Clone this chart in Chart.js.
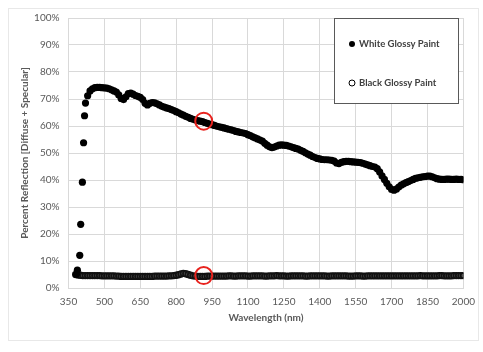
<!DOCTYPE html>
<html>
<head>
<meta charset="utf-8">
<script src="https://cdn.jsdelivr.net/npm/chart.js@4.4.1/dist/chart.umd.min.js"></script>
<style>
  html, body { margin: 0; padding: 0; background: #fff; }
  #wrap { width: 483px; height: 352px; }
</style>
</head>
<body>
<div id="wrap"><canvas id="spectrum" width="483" height="352"></canvas></div>
<script>
// wavelength axis ticks (nm)
const xTicks = [350, 500, 650, 800, 950, 1100, 1250, 1400, 1550, 1700, 1850, 2000];

// white paint: sparse points on the steep rise
const whiteRiseNm = [383, 387, 397, 401, 408, 413, 417, 421];
const whiteRisePct = [5.0, 6.6, 12.1, 23.6, 39.2, 53.8, 63.8, 68.5];

// white paint: 430 .. 2000 nm every 10 nm
const whiteStartNm = 430;
const whitePct = [
  71.2, 73.0, 73.8, 74.2, 74.3, 74.3, 74.2, 74.1, 74.0, 73.8,
  73.4, 73.0, 72.6, 71.5, 70.2, 69.8, 70.8, 72.0, 72.2, 71.8,
  71.3, 71.0, 70.6, 69.8, 68.4, 67.8, 68.4, 68.7, 68.6, 68.2,
  67.8, 67.3, 67.0, 66.7, 66.4, 66.1, 65.7, 65.3, 64.9, 64.4,
  64.0, 63.6, 63.2, 62.8, 62.5, 62.2, 62.0, 61.8, 61.6, 61.3,
  61.0, 60.7, 60.5, 60.2, 59.9, 59.7, 59.5, 59.3, 59.0, 58.8,
  58.6, 58.3, 58.0, 57.8, 57.6, 57.4, 57.2, 56.8, 56.4, 56.0,
  55.6, 55.2, 54.8, 54.4, 53.6, 52.9, 52.3, 52.0, 52.2, 52.6,
  52.9, 53.0, 52.9, 52.8, 52.6, 52.3, 52.0, 51.7, 51.4, 51.0,
  50.6, 50.1, 49.6, 49.2, 48.7, 48.3, 48.0, 47.8, 47.6, 47.5,
  47.5, 47.4, 47.3, 47.0, 46.3, 46.1, 46.5, 46.8, 46.9, 46.9,
  46.8, 46.7, 46.6, 46.5, 46.4, 46.2, 45.9, 45.6, 45.3, 45.0,
  44.8, 44.2, 43.0, 41.5, 40.2, 38.8, 37.5, 36.5, 36.2, 36.6,
  37.4, 38.1, 38.6, 39.0, 39.4, 39.8, 40.2, 40.6, 40.8, 41.0,
  41.2, 41.3, 41.4, 41.4, 41.2, 40.8, 40.5, 40.3, 40.2, 40.2,
  40.3, 40.3, 40.2, 40.2, 40.3, 40.2, 40.2, 40.1
];

// black paint: 380 .. 2000 nm every 10 nm
const blackStartNm = 380;
const blackPct = [
  5.0, 4.8, 4.7, 4.6, 4.6, 4.6, 4.6, 4.6, 4.6, 4.6,
  4.6, 4.5, 4.5, 4.5, 4.5, 4.5, 4.5, 4.4, 4.4, 4.3,
  4.3, 4.3, 4.3, 4.3, 4.3, 4.3, 4.3, 4.3, 4.3, 4.3,
  4.3, 4.3, 4.3, 4.4, 4.4, 4.4, 4.4, 4.4, 4.4, 4.5,
  4.5, 4.6, 4.7, 4.9, 5.2, 5.4, 5.3, 5.0, 4.7, 4.5,
  4.4, 4.3, 4.3, 4.3, 4.3, 4.4, 4.4, 4.4, 4.4, 4.4,
  4.4, 4.4, 4.4, 4.4, 4.5, 4.5, 4.4, 4.4, 4.5, 4.5,
  4.5, 4.5, 4.4, 4.4, 4.5, 4.5, 4.5, 4.5, 4.5, 4.4,
  4.4, 4.5, 4.5, 4.5, 4.6, 4.5, 4.5, 4.5, 4.4, 4.4,
  4.5, 4.5, 4.5, 4.5, 4.5, 4.5, 4.4, 4.4, 4.5, 4.5,
  4.5, 4.5, 4.5, 4.5, 4.5, 4.4, 4.4, 4.5, 4.5, 4.5,
  4.5, 4.5, 4.5, 4.5, 4.4, 4.4, 4.4, 4.5, 4.5, 4.5,
  4.4, 4.4, 4.5, 4.5, 4.5, 4.5, 4.5, 4.5, 4.5, 4.5,
  4.5, 4.5, 4.5, 4.5, 4.5, 4.5, 4.5, 4.5, 4.5, 4.5,
  4.5, 4.5, 4.5, 4.5, 4.6, 4.5, 4.5, 4.5, 4.5, 4.5,
  4.5, 4.5, 4.6, 4.6, 4.5, 4.5, 4.5, 4.5, 4.6, 4.6,
  4.6, 4.6, 4.6
];

// red highlight circles
const markNm = [915, 915];
const markPct = [61.8, 4.6];

const seriesNames = ['White Glossy Paint', 'Black Glossy Paint'];

const whitePoints = whiteRiseNm.map((x, i) => ({x, y: whiteRisePct[i]}))
  .concat(whitePct.map((y, i) => ({x: whiteStartNm + i * 10, y})));
const blackPoints = blackPct.map((y, i) => ({x: blackStartNm + i * 10, y}));
const markPoints = markNm.map((x, i) => ({x, y: markPct[i]}));

const textGray = '#595959';
const gridGray = '#d9d9d9';

// legend box in the upper right, drawn by hand like the Excel one
const boxLegend = {
  id: 'boxLegend',
  afterDraw(chart) {
    const ctx = chart.ctx;
    ctx.save();
    ctx.fillStyle = '#fff';
    ctx.fillRect(334, 18, 125, 85);
    ctx.strokeStyle = '#595959';
    ctx.lineWidth = 1;
    ctx.strokeRect(334.5, 18.5, 124, 85);
    ctx.font = 'bold 9.5px Lato';
    ctx.textBaseline = 'middle';
    ctx.textAlign = 'left';
    const rows = [44, 83];
    rows.forEach((y, i) => {
      ctx.beginPath();
      ctx.arc(352, y, 3, 0, Math.PI * 2);
      if (i === 0) {
        ctx.fillStyle = '#000';
        ctx.fill();
      } else {
        ctx.fillStyle = '#fff';
        ctx.fill();
        ctx.strokeStyle = '#000';
        ctx.stroke();
      }
      ctx.fillStyle = '#404040';
      ctx.fillText(seriesNames[i], 359, y);
    });
    ctx.restore();
  }
};

// faint outer frame of the chart
const frame = {
  id: 'frame',
  beforeDraw(chart) {
    const ctx = chart.ctx;
    ctx.save();
    ctx.strokeStyle = '#e8e8e8';
    ctx.lineWidth = 1;
    ctx.strokeRect(8.5, 8.5, 470, 332);
    ctx.restore();
  }
};

new Chart(document.getElementById('spectrum'), {
  type: 'scatter',
  data: {
    datasets: [
      {
        label: 'marks',
        data: markPoints,
        pointRadius: 8.5,
        pointBorderWidth: 2,
        pointBorderColor: '#e8231e',
        pointBackgroundColor: 'rgba(0,0,0,0)',
        order: -1
      },
      {
        label: seriesNames[0],
        data: whitePoints,
        pointRadius: 3.6,
        pointBorderWidth: 0,
        pointBackgroundColor: '#000',
        pointBorderColor: '#000'
      },
      {
        label: seriesNames[1],
        data: blackPoints,
        pointRadius: 2.8,
        pointBorderWidth: 1.8,
        pointBackgroundColor: '#555',
        pointBorderColor: '#111'
      }
    ]
  },
  options: {
    responsive: false,
    animation: false,
    layout: { padding: { left: 0, top: 18, right: 9, bottom: 0 } },
    plugins: {
      legend: { display: false },
      tooltip: { enabled: false }
    },
    scales: {
      x: {
        type: 'linear',
        min: xTicks[0],
        max: xTicks[xTicks.length - 1],
        afterBuildTicks: scale => { scale.ticks = xTicks.map(v => ({value: v})); },
        afterFit: scale => { scale.height = 64; },
        grid: { color: gridGray, drawTicks: false },
        border: { color: gridGray },
        ticks: {
          color: textGray,
          font: { family: 'Lato', size: 10 },
          padding: 8,
          maxRotation: 0,
          callback: v => String(v)
        },
        title: {
          display: true,
          text: 'Wavelength (nm)',
          color: textGray,
          font: { family: 'Lato', size: 10, weight: 'bold' },
          padding: { top: 0, bottom: 28 }
        }
      },
      y: {
        min: 0,
        max: 100,
        afterFit: scale => { scale.width = 68.5; },
        grid: { color: gridGray, drawTicks: false },
        border: { color: gridGray },
        ticks: {
          stepSize: 10,
          color: textGray,
          font: { family: 'Lato', size: 10 },
          padding: 9,
          callback: v => v + '%'
        },
        title: {
          display: true,
          text: 'Percent Reflection [Diffuse + Specular]',
          color: textGray,
          font: { family: 'Lato', size: 10, weight: 'bold' },
          padding: { top: 19, bottom: 0 }
        }
      }
    }
  },
  plugins: [frame, boxLegend]
});
</script>
</body>
</html>
